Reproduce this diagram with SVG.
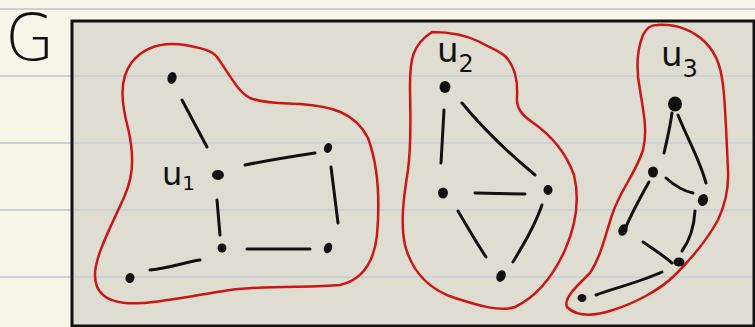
<svg xmlns="http://www.w3.org/2000/svg" width="755" height="327" viewBox="0 0 755 327">
  <style>
    .rule { stroke: #cdd0d4; stroke-width: 2; }
    .blob { fill: none; stroke: #cc1616; stroke-width: 2.5; stroke-linejoin: round; }
    .edge { fill: none; stroke: #111; stroke-width: 3; stroke-linecap: round; }
    .vtx { fill: #111; }
    .lbl { font-family: "DejaVu Sans", "Liberation Sans", sans-serif; fill: #111; }
  </style>

  <!-- paper -->
  <rect x="0" y="0" width="755" height="327" fill="#f8f6e8"/>
  <!-- graph frame fill -->
  <rect x="72" y="21" width="682" height="305" fill="#dfddd1"/>
  <!-- ruled lines -->
  <g id="rules">
    <line class="rule" x1="0" y1="9" x2="755" y2="9"/>
    <line class="rule" x1="0" y1="76" x2="755" y2="76"/>
    <line class="rule" x1="0" y1="143" x2="755" y2="143"/>
    <line class="rule" x1="0" y1="210" x2="755" y2="210"/>
    <line class="rule" x1="0" y1="277" x2="755" y2="277"/>
  </g>
  <!-- graph frame border -->
  <rect x="72" y="21" width="682" height="305" fill="none" stroke="#111" stroke-width="3"/>

  <text class="lbl" x="5" y="60" font-size="64" font-weight="300">G</text>

  <!-- component U1 -->
  <g id="u1">
    <path class="blob" d="M217,57 C230,75 238,92 250,98 C265,104 285,103 300,104 C330,106 355,112 368,138 C378,165 380,200 377,235 C374,262 362,280 340,285 C310,288 270,285 230,290 C190,296 150,305 125,303 C105,301 95,292 95,275 C95,255 112,225 125,195 C135,172 133,150 128,128 C122,105 118,80 132,62 C145,46 165,42 185,45 C200,48 212,50 217,57 Z"/>
    <path class="edge" d="M182,100 L207,147"/>
    <path class="edge" d="M245,165 C270,160 295,156 315,153"/>
    <path class="edge" d="M331,167 L338,223"/>
    <path class="edge" d="M217,200 L220,235"/>
    <path class="edge" d="M247,249 L310,249"/>
    <path class="edge" d="M150,270 C170,268 185,262 200,260"/>
    <ellipse class="vtx" cx="172" cy="78" rx="4.5" ry="6" transform="rotate(15 172 78)"/>
    <ellipse class="vtx" cx="218" cy="175" rx="6" ry="5"/>
    <ellipse class="vtx" cx="328" cy="148" rx="4" ry="5" transform="rotate(20 328 148)"/>
    <ellipse class="vtx" cx="222" cy="248" rx="4.5" ry="4.5"/>
    <ellipse class="vtx" cx="328" cy="248" rx="4" ry="5.5" transform="rotate(20 328 248)"/>
    <ellipse class="vtx" cx="130" cy="278" rx="4.5" ry="5" transform="rotate(20 130 278)"/>
    <text class="lbl" x="162" y="185" font-size="32">u<tspan font-size="20" dy="5">1</tspan></text>
  </g>

  <!-- component U2 -->
  <g id="u2">
    <path class="blob" d="M432,32 C450,32 468,36 480,42 C490,48 498,50 505,56 C515,66 518,80 517,97 C516,108 522,115 532,122 C548,133 565,150 574,175 C580,200 576,225 565,250 C555,272 540,295 515,307 C500,312 480,306 455,298 C430,290 412,272 405,245 C400,222 404,195 408,170 C412,140 410,110 410,85 C410,60 412,45 432,32 Z"/>
    <path class="edge" d="M444,110 L441,163"/>
    <path class="edge" d="M462,103 C480,125 505,150 535,175"/>
    <path class="edge" d="M475,193 L525,194"/>
    <path class="edge" d="M458,211 C468,228 476,242 486,257"/>
    <path class="edge" d="M542,205 C535,225 525,242 513,262"/>
    <ellipse class="vtx" cx="445" cy="87" rx="5.5" ry="6"/>
    <ellipse class="vtx" cx="443" cy="193" rx="5" ry="5.5"/>
    <ellipse class="vtx" cx="548" cy="190" rx="4.5" ry="5"/>
    <ellipse class="vtx" cx="501" cy="276" rx="4.5" ry="6" transform="rotate(25 501 276)"/>
    <text class="lbl" x="437" y="62" font-size="34">u<tspan font-size="24" dy="10">2</tspan></text>
  </g>

  <!-- component U3 -->
  <g id="u3">
    <path class="blob" d="M657,25 C672,24 690,28 705,42 C718,55 722,70 724,95 C726,120 727,150 728,170 C729,190 725,205 718,220 C708,238 692,258 675,275 C660,290 635,303 613,310 C598,315 578,318 567,307 C563,298 578,285 590,273 C600,258 604,240 612,215 C620,190 635,175 643,150 C648,130 643,110 640,90 C636,70 637,50 643,35 C647,28 650,25 657,25 Z"/>
    <path class="edge" d="M672,113 C670,128 667,140 664,153"/>
    <path class="edge" d="M678,115 C688,140 700,160 706,183"/>
    <path class="edge" d="M666,178 C675,186 683,191 693,193"/>
    <path class="edge" d="M649,182 C640,198 632,212 626,227"/>
    <path class="edge" d="M695,211 C694,228 690,240 682,251"/>
    <path class="edge" d="M643,242 C655,250 664,256 672,263"/>
    <path class="edge" d="M662,272 C640,282 615,288 596,295"/>
    <ellipse class="vtx" cx="675" cy="104" rx="7" ry="7.5"/>
    <ellipse class="vtx" cx="653" cy="172" rx="5" ry="5.5"/>
    <ellipse class="vtx" cx="703" cy="200" rx="5" ry="6" transform="rotate(20 703 200)"/>
    <ellipse class="vtx" cx="623" cy="230" rx="4.5" ry="6" transform="rotate(20 623 230)"/>
    <ellipse class="vtx" cx="679" cy="262" rx="5.5" ry="4.5"/>
    <ellipse class="vtx" cx="582" cy="298" rx="4.5" ry="4"/>
    <text class="lbl" x="661" y="66" font-size="34">u<tspan font-size="24" dy="11">3</tspan></text>
  </g>
</svg>
